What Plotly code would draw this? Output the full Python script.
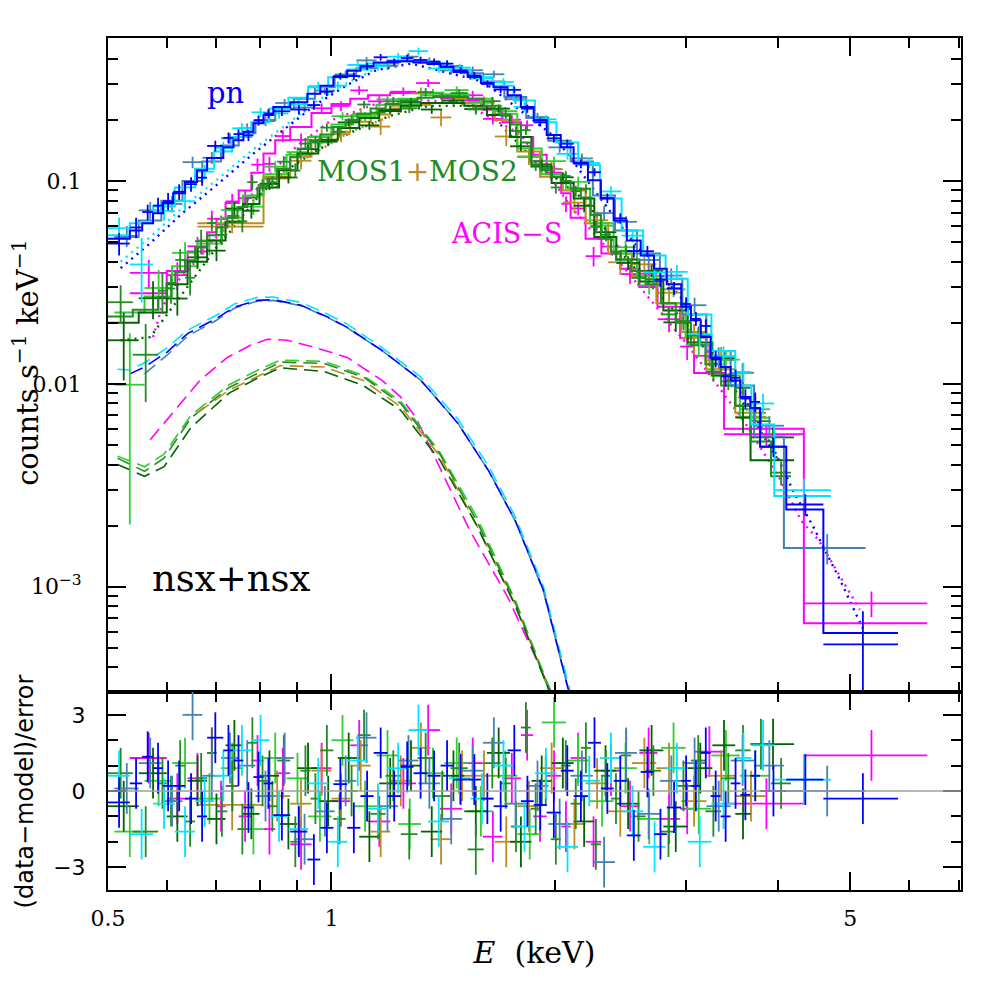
import numpy as np
import plotly.graph_objects as go
from plotly.subplots import make_subplots

# ---- spectra: bin edges (keV), model (counts/s/keV),
# ---- 1-sigma error as fraction of the model, residual (data-model)/error

# EPIC-pn obs 1 (blue)
pn1_edges = [0.50, 0.535, 0.556, 0.575, 0.593, 0.612, 0.635, 0.659, 0.68, 0.715, 0.738, 0.761, 0.785, 0.81,
             0.835, 0.88, 0.928, 0.966, 1.006, 1.05, 1.094, 1.14, 1.19, 1.24, 1.29, 1.347, 1.403, 1.46, 1.526,
             1.59, 1.654, 1.727, 1.8, 1.873, 1.95, 2.037, 2.12, 2.216, 2.307, 2.4, 2.5, 2.61, 2.72, 2.83, 2.96,
             3.05, 3.145, 3.243, 3.344, 3.45, 3.556, 3.667, 3.78, 4.1, 4.6, 5.8]
pn1_model = [0.052, 0.057, 0.062, 0.0695, 0.078, 0.087, 0.099, 0.113, 0.13, 0.147, 0.159, 0.175, 0.193, 0.212,
             0.232, 0.245, 0.27, 0.295, 0.326, 0.35, 0.37, 0.385, 0.39, 0.39, 0.385, 0.378, 0.365, 0.345, 0.326,
             0.305, 0.29, 0.265, 0.232, 0.2, 0.169, 0.147, 0.123, 0.101, 0.082, 0.064, 0.051, 0.043, 0.037,
             0.031, 0.024, 0.0206, 0.017, 0.0135, 0.0121, 0.0104, 0.0086, 0.0076, 0.0049, 0.0024, 0.00059]
pn1_frac = [0.12, 0.12, 0.1, 0.1, 0.1, 0.09, 0.08, 0.08, 0.07, 0.07, 0.06, 0.06, 0.06, 0.055, 0.05, 0.05,
            0.045, 0.045, 0.04, 0.04, 0.04, 0.04, 0.04, 0.04, 0.04, 0.04, 0.04, 0.04, 0.04, 0.04, 0.04, 0.04,
            0.045, 0.045, 0.045, 0.05, 0.05, 0.05, 0.055, 0.06, 0.065, 0.065, 0.07, 0.07, 0.08, 0.08, 0.09,
            0.09, 0.1, 0.1, 0.11, 0.12, 0.11, 0.13, 0.4]
pn1_resid = [-0.45, 0.3, 1.35, 0.9, 0.2, 0.2, -0.3, -1.0, 2.1, 1.6, 1.2, -0.65, 0.55, 0.3, -0.95, -1.6, -2.7,
             -1.45, 0.27, -1.45, -0.2, 1.5, -0.2, 0.95, 0.7, 0.6, 1.0, 0.45, 0.45, -0.3, -0.6, 1.6, -0.4,
             -0.55, -0.85, 0.8, -0.2, 1.9, 0.1, 0.4, -1.75, 0.75, -1.7, -0.65, 0.4, 0.2, 1.5, -0.2, -1.0, 0.3,
             -0.15, 0.6, 0.0, 0.45, -0.3]

# EPIC-pn obs 2 (steel blue)
pn2_edges = [0.51, 0.55, 0.59, 0.63, 0.67, 0.71, 0.75, 0.79, 0.84, 0.89, 0.95, 1.01, 1.08, 1.15, 1.23, 1.31,
             1.40, 1.50, 1.60, 1.71, 1.83, 1.96, 2.10, 2.25, 2.41, 2.58, 2.77, 2.97, 3.2, 3.45, 3.71, 4.07, 5.24]
pn2_model = [0.053, 0.064, 0.08, 0.1, 0.125, 0.15, 0.172, 0.2, 0.228, 0.255, 0.29, 0.33, 0.36, 0.38, 0.39,
             0.385, 0.37, 0.34, 0.31, 0.26, 0.205, 0.158, 0.125, 0.085, 0.057, 0.044, 0.033, 0.022, 0.0145,
             0.0098, 0.0055, 0.00155]
pn2_frac = [0.12, 0.11, 0.09, 0.08, 0.07, 0.065, 0.06, 0.055, 0.05, 0.05, 0.045, 0.045, 0.045, 0.045, 0.045,
            0.045, 0.045, 0.045, 0.045, 0.05, 0.05, 0.055, 0.06, 0.065, 0.07, 0.08, 0.09, 0.1, 0.11, 0.13,
            0.13, 0.17]
pn2_resid = [0.1, 1.1, -0.4, 3.0, 0.6, 1.3, 1.0, -0.2, 1.3, -1.9, -0.8, 0.4, 2.1, -0.6, 1.2, 0.3, -1.1, 0.8,
             1.9, -0.5, 0.2, -1.3, 0.6, -2.8, 1.5, -0.9, 0.4, 1.1, -0.6, 1.2, 1.0, 0.0]

# EPIC-pn obs 3 (cyan)
pn3_edges = [0.50, 0.535, 0.575, 0.615, 0.655, 0.695, 0.735, 0.78, 0.825, 0.875, 0.93, 0.99, 1.05, 1.12,
             1.19, 1.27, 1.35, 1.44, 1.54, 1.65, 1.76, 1.88, 2.01, 2.15, 2.30, 2.46, 2.63, 2.82, 3.02, 3.25,
             3.5, 3.68, 3.95, 4.71]
pn3_model = [0.054, 0.062, 0.075, 0.093, 0.115, 0.14, 0.165, 0.195, 0.228, 0.258, 0.29, 0.325, 0.355, 0.38,
             0.395, 0.395, 0.38, 0.355, 0.325, 0.295, 0.25, 0.195, 0.155, 0.12, 0.082, 0.057, 0.043, 0.033,
             0.022, 0.0145, 0.0098, 0.0063, 0.0028]
pn3_frac = [0.14, 0.22, 0.1, 0.09, 0.08, 0.07, 0.065, 0.06, 0.055, 0.05, 0.05, 0.045, 0.045, 0.045, 0.045,
            0.045, 0.045, 0.045, 0.045, 0.045, 0.05, 0.05, 0.055, 0.06, 0.065, 0.07, 0.08, 0.09, 0.1, 0.11,
            0.13, 0.15, 0.15]
pn3_resid = [0.6, -1.7, -0.5, -1.6, -0.4, 0.6, 1.6, 2.0, -1.0, -1.5, 0.3, -2.0, 1.2, -0.7, 0.9, 2.4, -1.2,
             0.5, -0.3, 1.0, -1.4, 0.7, -2.2, 0.4, 1.3, -0.8, -2.2, 0.9, -2.0, -0.5, 1.3, 1.8, 0.45]

# MOS (forest green)
mos1_edges = [0.50, 0.54, 0.584, 0.60, 0.616, 0.635, 0.655, 0.68, 0.70, 0.724, 0.747, 0.77, 0.795, 0.82,
              0.845, 0.88, 0.908, 0.937, 0.966, 1.006, 1.045, 1.084, 1.129, 1.183, 1.24, 1.306, 1.373, 1.447,
              1.526, 1.604, 1.69, 1.745, 1.80, 1.856, 1.913, 1.975, 2.037, 2.10, 2.168, 2.236, 2.307, 2.38,
              2.455, 2.535, 2.65, 2.78, 2.91, 3.05, 3.19, 3.35, 3.50, 3.67, 3.91, 4.16]
mos1_model = [0.0215, 0.0232, 0.0268, 0.0314, 0.0355, 0.0407, 0.047, 0.054, 0.059, 0.066, 0.0745, 0.083,
              0.093, 0.103, 0.115, 0.131, 0.145, 0.159, 0.17, 0.185, 0.2, 0.215, 0.228, 0.24, 0.25, 0.258,
              0.262, 0.26, 0.255, 0.235, 0.21, 0.19, 0.155, 0.125, 0.113, 0.105, 0.1, 0.092, 0.083, 0.068,
              0.052, 0.045, 0.041, 0.036, 0.031, 0.025, 0.02, 0.0155, 0.0125, 0.0098, 0.0078, 0.0052, 0.0035]
mos1_frac = [0.25, 0.25, 0.25, 0.15, 0.15, 0.15, 0.15, 0.1, 0.1, 0.1, 0.1, 0.1, 0.07, 0.07, 0.07, 0.07,
             0.07, 0.07, 0.05, 0.05, 0.05, 0.05, 0.05, 0.05, 0.05, 0.05, 0.05, 0.05, 0.05, 0.05, 0.05, 0.05,
             0.06, 0.06, 0.06, 0.06, 0.06, 0.06, 0.06, 0.06, 0.075, 0.075, 0.075, 0.075, 0.075, 0.075, 0.1,
             0.1, 0.1, 0.1, 0.14, 0.14, 0.14]
mos1_resid = [0.7, -1.6, 0.3, -0.4, 1.0, -1.2, 0.5, 1.5, -0.8, 0.2, -1.5, 1.9, 0.4, -0.6, 1.2, -2.0, 0.8,
              -0.3, 1.6, -1.1, 0.0, 2.2, -0.9, 0.6, -1.7, 1.3, -0.2, 0.9, -2.3, 1.1, 0.3, -1.4, 2.5, -0.7,
              0.4, -1.9, 1.0, -0.5, 1.7, -2.1, 0.6, -0.3, 1.4, -1.0, 0.8, -1.6, 0.2, 1.2, -0.8, 0.5, 1.6,
              1.85, 0.3]

# MOS (dark green)
mos2_edges = [0.50, 0.55, 0.60, 0.64, 0.68, 0.72, 0.76, 0.80, 0.85, 0.90, 0.96, 1.02, 1.09, 1.16, 1.24,
              1.32, 1.41, 1.51, 1.62, 1.74, 1.86, 1.98, 2.12, 2.26, 2.42, 2.60, 2.80, 3.02, 3.26, 3.5, 3.67,
              4.2]
mos2_model = [0.02, 0.0225, 0.031, 0.04, 0.051, 0.063, 0.077, 0.093, 0.113, 0.137, 0.16, 0.183, 0.205,
              0.222, 0.235, 0.243, 0.243, 0.235, 0.212, 0.165, 0.118, 0.098, 0.082, 0.053, 0.041, 0.032,
              0.023, 0.016, 0.011, 0.0078, 0.0042]
mos2_frac = [0.3, 0.25, 0.15, 0.13, 0.1, 0.09, 0.08, 0.07, 0.06, 0.055, 0.05, 0.05, 0.045, 0.045, 0.045,
             0.045, 0.045, 0.045, 0.05, 0.05, 0.06, 0.06, 0.065, 0.07, 0.075, 0.08, 0.09, 0.1, 0.12, 0.14,
             0.16]
mos2_resid = [-0.6, 0.7, -1.0, 0.4, -1.1, 1.8, -0.9, 0.6, -1.3, 0.9, -0.4, 1.3, -1.8, 0.3, 1.0, -1.6, 0.6,
              -0.8, 1.5, -2.0, 0.4, 1.1, -1.2, 0.8, -0.5, 1.6, -1.4, 0.9, 1.8, -0.9, 1.85]

# MOS (lime green)
mos3_edges = [0.51, 0.56, 0.61, 0.66, 0.71, 0.76, 0.81, 0.87, 0.93, 1.0, 1.07, 1.15, 1.23, 1.32, 1.42,
              1.53, 1.65, 1.78, 1.92, 2.07, 2.23, 2.40, 2.58, 2.78, 3.0, 3.25, 3.55, 3.9]
mos3_model = [0.0225, 0.027, 0.038, 0.051, 0.066, 0.085, 0.108, 0.135, 0.165, 0.19, 0.215, 0.238, 0.255,
              0.265, 0.268, 0.255, 0.215, 0.145, 0.108, 0.092, 0.062, 0.044, 0.034, 0.025, 0.017, 0.011,
              0.0068]
mos3_frac = [0.35, 0.25, 0.15, 0.12, 0.1, 0.08, 0.07, 0.06, 0.055, 0.05, 0.05, 0.045, 0.045, 0.045, 0.045,
             0.045, 0.05, 0.055, 0.06, 0.065, 0.07, 0.08, 0.09, 0.1, 0.12, 0.14, 0.17]
mos3_resid = [-1.6, 0.4, 1.1, -0.3, 0.9, -1.5, 1.3, 0.5, -1.0, 2.0, -0.6, 1.4, -1.3, 0.7, 1.1, -0.8, 0.6,
              -1.7, 2.7, 1.2, -0.4, 0.9, -1.1, 1.7, -0.7, 1.4, 0.6]

# MOS (goldenrod)
mos4_edges = [0.66, 0.81, 0.88, 0.94, 1.0, 1.06, 1.13, 1.2, 1.28, 1.36, 1.45, 1.55, 1.66, 1.78, 1.91, 2.05,
              2.2, 2.36, 2.54, 2.74, 2.96, 3.2, 3.5, 3.85]
mos4_model = [0.062, 0.105, 0.132, 0.155, 0.175, 0.196, 0.213, 0.228, 0.238, 0.243, 0.243, 0.232, 0.2, 0.14,
              0.105, 0.09, 0.062, 0.044, 0.034, 0.025, 0.018, 0.0118, 0.0072]
mos4_frac = [0.07, 0.1, 0.09, 0.09, 0.085, 0.08, 0.08, 0.08, 0.08, 0.08, 0.08, 0.08, 0.085, 0.09, 0.1, 0.1,
             0.11, 0.12, 0.13, 0.14, 0.16, 0.18, 0.22]
mos4_resid = [-0.55, -0.2, -0.5, 0.8, -0.3, 1.0, -1.6, 0.4, 1.7, -1.9, 0.6, 0.6, -2.0, -0.6, 0.9, -1.3, 0.3,
              -0.8, 1.1, 0.9, -0.4, 0.6, -0.2]

# Chandra ACIS-S (magenta)
acis_edges = [0.535, 0.60, 0.64, 0.68, 0.70, 0.72, 0.75, 0.78, 0.81, 0.84, 0.88, 0.94, 1.0, 1.06, 1.12,
              1.2, 1.3, 1.4, 1.5, 1.6, 1.7, 1.8, 1.87, 1.95, 2.04, 2.1, 2.2, 2.31, 2.45, 2.6, 2.75, 2.95,
              3.08, 3.38, 4.33, 6.35]
acis_model = [0.028, 0.036, 0.045, 0.056, 0.065, 0.078, 0.09, 0.11, 0.137, 0.159, 0.185, 0.217, 0.24, 0.255,
              0.265, 0.272, 0.272, 0.265, 0.25, 0.225, 0.195, 0.165, 0.135, 0.11, 0.087, 0.066, 0.052,
              0.044, 0.037, 0.03, 0.024, 0.0168, 0.0113, 0.006, 0.00066]
acis_frac = [0.2, 0.15, 0.12, 0.11, 0.1, 0.09, 0.085, 0.08, 0.075, 0.07, 0.065, 0.06, 0.055, 0.055, 0.055,
             0.05, 0.05, 0.05, 0.055, 0.055, 0.06, 0.065, 0.07, 0.075, 0.08, 0.085, 0.09, 0.1, 0.1, 0.11,
             0.12, 0.13, 0.14, 0.12, 0.18]
acis_resid = [1.3, -0.3, 0.5, 1.5, -0.6, 0.2, -1.0, 1.2, -1.5, 0.7, -2.1, 0.9, -0.4, 1.8, -1.2, 0.3, 2.4,
              -0.7, 1.1, -1.8, 0.5, 2.2, -1.0, 0.6, -1.4, 1.3, -2.0, 0.8, -0.6, 1.5, -1.1, -0.7, 1.55, -0.5,
              1.4]

# model components: dashed (cool nsx) and dotted (hot nsx)
pn1_dash_e = [0.535, 0.56, 0.60, 0.64, 0.70, 0.74, 0.795, 0.835, 0.91, 0.99, 1.05, 1.17, 1.32, 1.48, 1.63,
              1.77, 1.93, 2.09, 2.2]
pn1_dash_v = [0.0112, 0.0121, 0.0143, 0.0177, 0.021, 0.0239, 0.0258, 0.026, 0.0244, 0.0213, 0.019, 0.0146,
              0.0104, 0.0064, 0.0037, 0.0021, 0.00096, 0.0003, 0.00013]
pn2_dash_e = [0.56, 0.60, 0.64, 0.70, 0.74, 0.795, 0.835, 0.91, 0.99, 1.05, 1.17, 1.32, 1.48, 1.63, 1.77,
              1.93, 2.09, 2.2]
pn2_dash_v = [0.0112, 0.0138, 0.0172, 0.0206, 0.0236, 0.0256, 0.0258, 0.0243, 0.0212, 0.0189, 0.0146,
              0.0104, 0.0064, 0.0037, 0.0021, 0.00095, 0.0003, 0.00013]
pn3_dash_e = [0.515, 0.535, 0.56, 0.60, 0.64, 0.70, 0.74, 0.795, 0.835, 0.91, 0.99, 1.05, 1.17, 1.32, 1.48,
              1.63, 1.77, 1.93, 2.1, 2.2]
pn3_dash_v = [0.0118, 0.0117, 0.0127, 0.015, 0.0184, 0.0218, 0.0248, 0.0267, 0.0268, 0.0252, 0.022, 0.0197,
              0.0151, 0.0108, 0.0067, 0.0039, 0.0022, 0.001, 0.0003, 0.00014]
mos_dash_e = [0.515, 0.56, 0.595, 0.647, 0.728, 0.80, 0.854, 0.978, 1.104, 1.24, 1.40, 1.57, 1.77, 1.97, 2.05]
mos1_dash_v = [0.0043, 0.0037, 0.0043, 0.0068, 0.0096, 0.0114, 0.0128, 0.0126, 0.0108, 0.008, 0.0045,
               0.0021, 0.00083, 0.0003, 0.00018]
mos2_dash_v = [0.004, 0.0035, 0.0039, 0.0061, 0.009, 0.0108, 0.012, 0.0115, 0.0098, 0.0074, 0.0042, 0.002,
               0.0008, 0.0003, 0.00018]
mos3_dash_v = [0.0044, 0.0039, 0.0045, 0.007, 0.0099, 0.0118, 0.0131, 0.0129, 0.011, 0.0082, 0.0046,
               0.0022, 0.00085, 0.00031, 0.00019]
mos4_dash_e = [0.66, 0.728, 0.80, 0.854, 0.978, 1.104, 1.24, 1.40, 1.57, 1.77, 1.97, 2.05]
mos4_dash_v = [0.0072, 0.0093, 0.011, 0.0123, 0.0121, 0.0104, 0.0077, 0.0044, 0.002, 0.00081, 0.0003,
               0.00018]
acis_dash_e = [0.57, 0.62, 0.665, 0.724, 0.778, 0.82, 0.872, 0.957, 1.05, 1.17, 1.24, 1.30, 1.535, 1.73,
               1.98, 2.05]
acis_dash_v = [0.0053, 0.0077, 0.0104, 0.0135, 0.0155, 0.0166, 0.0164, 0.015, 0.0135, 0.0104, 0.0086,
               0.0068, 0.0019, 0.00088, 0.0003, 0.0002]

pn1_dot_e = [0.52, 0.57, 0.63, 0.70, 0.78, 0.87, 0.95, 1.05, 1.15, 1.28, 1.6, 2.0, 2.5, 3.0, 3.3, 3.6,
             3.95, 4.2, 4.45, 4.65, 4.85, 5.2]
pn1_dot_v = [0.0372, 0.0494, 0.0695, 0.0955, 0.134, 0.183, 0.237, 0.298, 0.353, 0.38, 0.31, 0.165, 0.055,
             0.025, 0.0135, 0.0085, 0.0047, 0.0029, 0.002, 0.00145, 0.00107, 0.00062]
pn3_dot_e = [0.52, 0.57, 0.63, 0.70, 0.78, 0.87, 0.95, 1.05, 1.15]
pn3_dot_v = [0.04, 0.053, 0.074, 0.101, 0.141, 0.19, 0.245, 0.305, 0.36]
mos2_dot_e = [0.52, 0.57, 0.625, 0.665, 0.70, 0.738, 0.795, 0.86, 0.95, 1.06, 1.2, 1.35, 1.6, 1.9, 2.2,
              2.5, 3.0, 3.5, 4.0]
mos2_dot_v = [0.0164, 0.017, 0.0268, 0.0364, 0.047, 0.059, 0.083, 0.11, 0.14, 0.173, 0.21, 0.235, 0.235,
              0.12, 0.08, 0.041, 0.02, 0.0093, 0.0042]
mos4_dot_e = [0.66, 0.74, 0.80, 0.86, 0.95, 1.06, 1.2]
mos4_dot_v = [0.043, 0.064, 0.086, 0.11, 0.138, 0.175, 0.208]
acis_dot_e = [0.575, 0.59, 0.62, 0.66, 0.70, 0.75, 0.80, 0.90, 1.0, 1.2, 1.5, 1.8, 2.1, 2.5, 3.0, 3.25, 3.6,
              4.0, 4.3, 4.53, 4.86, 5.15]
acis_dot_v = [0.017, 0.0235, 0.032, 0.041, 0.053, 0.072, 0.095, 0.15, 0.2, 0.255, 0.245, 0.17, 0.075, 0.036,
              0.016, 0.0108, 0.0065, 0.0035, 0.0021, 0.0017, 0.0011, 0.00077]

BLUE, STEEL, CYAN = "#0000ff", "#4682b4", "#00e5ff"
GREEN, DKGREEN, LIME, GOLD, MAGENTA = "#228b22", "#006400", "#32cd32", "#c08a1e", "#ff00ff"
SERIF, SANS = "DejaVu Serif", "DejaVu Sans"

fig = make_subplots(rows=2, cols=1, row_heights=[0.7676, 0.2324], vertical_spacing=0)


def add_line(x, y, color, dash, width):
    fig.add_trace(go.Scatter(x=x, y=y, mode="lines", hoverinfo="skip",
                             line=dict(color=color, dash=dash, width=width)), row=1, col=1)


def add_spectrum(edges, model, frac, resid, color):
    edges = np.asarray(edges, float)
    model = np.asarray(model, float)
    resid = np.asarray(resid, float)
    lo, hi = edges[:-1], edges[1:]
    mid = 0.5 * (lo + hi)
    err = model * np.asarray(frac, float)
    data = model + resid * err
    xerr = dict(type="data", symmetric=False, array=hi - mid, arrayminus=mid - lo,
                width=0, thickness=1.8, color=color)
    hidden = dict(size=1, color=color, opacity=0)
    fig.add_trace(go.Scatter(x=edges, y=np.append(model, model[-1]), mode="lines", hoverinfo="skip",
                             line=dict(color=color, width=2, shape="hv")), row=1, col=1)
    fig.add_trace(go.Scatter(x=mid, y=data, mode="markers", marker=hidden, error_x=xerr, hoverinfo="skip",
                             error_y=dict(type="data", array=err, width=0, thickness=1.8, color=color)),
                  row=1, col=1)
    fig.add_trace(go.Scatter(x=mid, y=resid, mode="markers", marker=hidden, error_x=xerr, hoverinfo="skip",
                             error_y=dict(type="data", array=np.ones_like(mid), width=0, thickness=1.8,
                                          color=color)),
                  row=2, col=1)


DASH = "14px,7px"
DOT = "2px,5px"
add_line(acis_dash_e, acis_dash_v, MAGENTA, DASH, 1.6)
add_line(mos_dash_e, mos3_dash_v, LIME, DASH, 1.6)
add_line(mos_dash_e, mos1_dash_v, GREEN, DASH, 1.6)
add_line(mos4_dash_e, mos4_dash_v, GOLD, DASH, 1.6)
add_line(mos_dash_e, mos2_dash_v, DKGREEN, DASH, 1.6)
add_line(pn3_dash_e, pn3_dash_v, CYAN, DASH, 1.6)
add_line(pn2_dash_e, pn2_dash_v, STEEL, DASH, 1.6)
add_line(pn1_dash_e, pn1_dash_v, BLUE, DASH, 1.6)

add_line(acis_dot_e, acis_dot_v, MAGENTA, DOT, 2.4)
add_line(mos4_dot_e, mos4_dot_v, GOLD, DOT, 2.4)
add_line(mos2_dot_e, mos2_dot_v, DKGREEN, DOT, 2.4)
add_line(pn3_dot_e, pn3_dot_v, CYAN, DOT, 2.4)
add_line(pn1_dot_e, pn1_dot_v, BLUE, DOT, 2.4)

add_spectrum(acis_edges, acis_model, acis_frac, acis_resid, MAGENTA)
add_spectrum(mos4_edges, mos4_model, mos4_frac, mos4_resid, GOLD)
add_spectrum(mos3_edges, mos3_model, mos3_frac, mos3_resid, LIME)
add_spectrum(mos2_edges, mos2_model, mos2_frac, mos2_resid, DKGREEN)
add_spectrum(mos1_edges, mos1_model, mos1_frac, mos1_resid, GREEN)
add_spectrum(pn2_edges, pn2_model, pn2_frac, pn2_resid, STEEL)
add_spectrum(pn3_edges, pn3_model, pn3_frac, pn3_resid, CYAN)
add_spectrum(pn1_edges, pn1_model, pn1_frac, pn1_resid, BLUE)

fig.add_hline(y=0, line=dict(color="#a0a0a0", width=1.5), row=2, col=1)

frame = dict(showline=True, linecolor="black", linewidth=2, mirror="ticks", ticks="inside",
             tickcolor="black", tickwidth=2, ticklen=18, showgrid=False, zeroline=False)
minor = dict(ticks="inside", ticklen=10, tickwidth=2, tickcolor="black", showgrid=False)

fig.update_xaxes(type="log", range=[np.log10(0.5), np.log10(7.05)], tickvals=[0.5, 1, 5],
                 ticktext=["0.5", "1", "5"], minor=dict(tickvals=[0.6, 0.7, 0.8, 0.9, 2, 3, 4, 6, 7], **minor),
                 **frame)
fig.update_xaxes(showticklabels=False, row=1, col=1)
fig.update_xaxes(tickfont=dict(family=SERIF, size=22, color="black"), ticklabelstandoff=8,
                 title=dict(text="<i>E</i>  (keV)", font=dict(family=SERIF, size=30, color="black"),
                            standoff=12),
                 row=2, col=1)

fig.update_yaxes(type="log", range=[np.log10(3.02e-4), np.log10(0.508)],
                 tickvals=[1e-3, 1e-2, 1e-1], ticktext=["10<sup>−3</sup>", "0.01", "0.1"],
                 tickfont=dict(family=SERIF, size=22, color="black"), ticklabelstandoff=20,
                 minor=dict(tickvals=[4e-4, 5e-4, 6e-4, 7e-4, 8e-4, 9e-4, 2e-3, 3e-3, 4e-3, 5e-3, 6e-3,
                                      7e-3, 8e-3, 9e-3, 0.02, 0.03, 0.04, 0.05, 0.06, 0.07, 0.08, 0.09,
                                      0.2, 0.3, 0.4], **minor),
                 row=1, col=1, **frame)
fig.update_yaxes(range=[-3.9, 3.9], tickvals=[-3, 0, 3], ticktext=["−3", "0", "3"],
                 tickfont=dict(family=SANS, size=22, color="black"), ticklabelstandoff=16,
                 minor=dict(tickvals=[-2, -1, 1, 2], **minor), row=2, col=1, **frame)

# page body adds an 8px margin, so the figure is kept 8px smaller than the window
fig.update_layout(width=988, height=988, margin=dict(l=100, r=35, t=30, b=106),
                  paper_bgcolor="white", plot_bgcolor="white", showlegend=False)


def label(text, x, y, color="black", size=28, family=SERIF, angle=0):
    fig.add_annotation(text=text, xref="paper", yref="paper", x=x, y=y, showarrow=False,
                       xanchor="center", yanchor="middle", textangle=angle,
                       font=dict(family=family, size=size, color=color))


label("counts s<sup>−1</sup> keV<sup>−1</sup>", -0.097, 0.619, size=29, angle=-90)
label("(data−model)/error", -0.097, 0.116, size=24, family=SANS, angle=-90)
label("pn", 0.138, 0.935, color=BLUE, size=29)
label("MOS1<span style='color:%s'>+</span>MOS2" % GOLD, 0.363, 0.843, color=GREEN, size=28)
label("ACIS−S", 0.467, 0.771, color=MAGENTA, size=27)
label("nsx+nsx", 0.145, 0.366, size=37)

fig.write_html("out.html", config={"displayModeBar": False})
